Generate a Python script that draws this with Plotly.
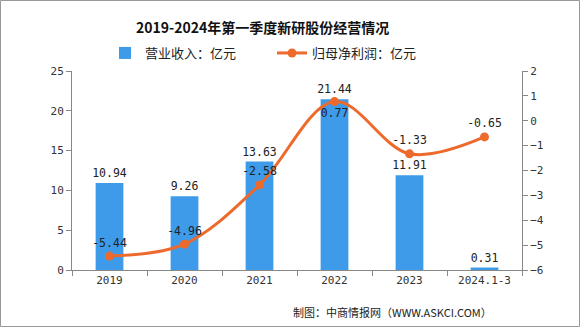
import plotly.graph_objects as go

categories = ["2019", "2020", "2021", "2022", "2023", "2024.1-3"]
revenue = [10.94, 9.26, 13.63, 21.44, 11.91, 0.31]
net_profit = [-5.44, -4.96, -2.58, 0.77, -1.33, -0.65]

BAR_COLOR = "#3d9be9"
LINE_COLOR = "#ed6a2c"
FONT = "Noto Sans CJK SC"
NUMFONT = "DejaVu Sans Mono"

W, H = 580, 327
ML, MR, MT, MB = 72, 58, 71, 57
PW, PH = W - ML - MR, H - MT - MB

fig = go.Figure()
fig.add_trace(go.Bar(
    x=categories, y=revenue, name="营业收入：亿元",
    marker=dict(color=BAR_COLOR, line=dict(width=0)),
    width=0.37,
    text=[f"{v:.2f}" for v in revenue], textposition="outside",
    constraintext="none",
    textfont=dict(size=11.5, color="#222", family=NUMFONT),
    cliponaxis=False,
))
fig.add_trace(go.Scatter(
    x=categories, y=net_profit, name="归母净利润：亿元", yaxis="y2",
    mode="lines+markers+text",
    line=dict(color=LINE_COLOR, width=3, shape="spline", smoothing=1.0),
    marker=dict(color=LINE_COLOR, size=9),
    text=[f"{v:.2f}" for v in net_profit],
    textposition=["top center", "top center", "top center", "bottom center", "top center", "top center"],
    textfont=dict(size=11.5, color="#222", family=NUMFONT),
    cliponaxis=False,
))

px = lambda p: p / PW
py = lambda p: p / PH

tickfont = dict(size=11, family=NUMFONT, color="#333")

fig.update_layout(
    width=W, height=H,
    margin=dict(l=ML, r=MR, t=MT, b=MB, pad=0),
    paper_bgcolor="white", plot_bgcolor="white",
    font=dict(family=FONT, size=12, color="#222"),
    showlegend=True,
    legend=dict(orientation="h", x=px(272 - ML), xanchor="center",
                y=1 + py(MT - 53), yanchor="middle",
                font=dict(size=13, family=FONT, color="#222"),
                itemwidth=30, entrywidth=122, entrywidthmode="pixels",
                tracegroupgap=0, bgcolor="rgba(0,0,0,0)"),
    xaxis=dict(type="category", showline=True, linecolor="#888", linewidth=1,
               ticks="outside", tickson="boundaries", ticklen=5, tickcolor="#888",
               showgrid=False, tickfont=tickfont),
    yaxis=dict(range=[0, 25], dtick=5, showline=True, linecolor="#888", linewidth=1,
               ticks="outside", ticklen=5, tickcolor="#888", showgrid=False, zeroline=False,
               tickfont=tickfont),
    yaxis2=dict(range=[-6, 2], dtick=1, overlaying="y", side="right", showline=True,
                linecolor="#888", linewidth=1, ticks="outside", ticklen=5, tickcolor="#888",
                showgrid=False, zeroline=False, tickfont=tickfont),
    annotations=[
        dict(text="<b>2019-2024年第一季度新研股份经营情况</b>", xref="paper", yref="paper",
             x=px(262 - ML), y=1 + py(MT - 27), xanchor="center", yanchor="middle",
             showarrow=False, font=dict(size=14, family=FONT, color="#111")),
        dict(text="制图：中商情报网（WWW.ASKCI.COM）", xref="paper", yref="paper",
             x=px(494 - ML), y=-py(312 - (MT + PH)), xanchor="right", yanchor="middle",
             showarrow=False, font=dict(size=11, family=FONT, color="#222")),
    ],
    shapes=[dict(type="rect", xref="paper", yref="paper",
                 x0=-px(ML - 0.5), x1=1 + px(MR - 0.5), y0=-py(MB - 0.5), y1=1 + py(MT - 0.5),
                 line=dict(color="#999", width=1))],
)

fig.write_html("out.html")
